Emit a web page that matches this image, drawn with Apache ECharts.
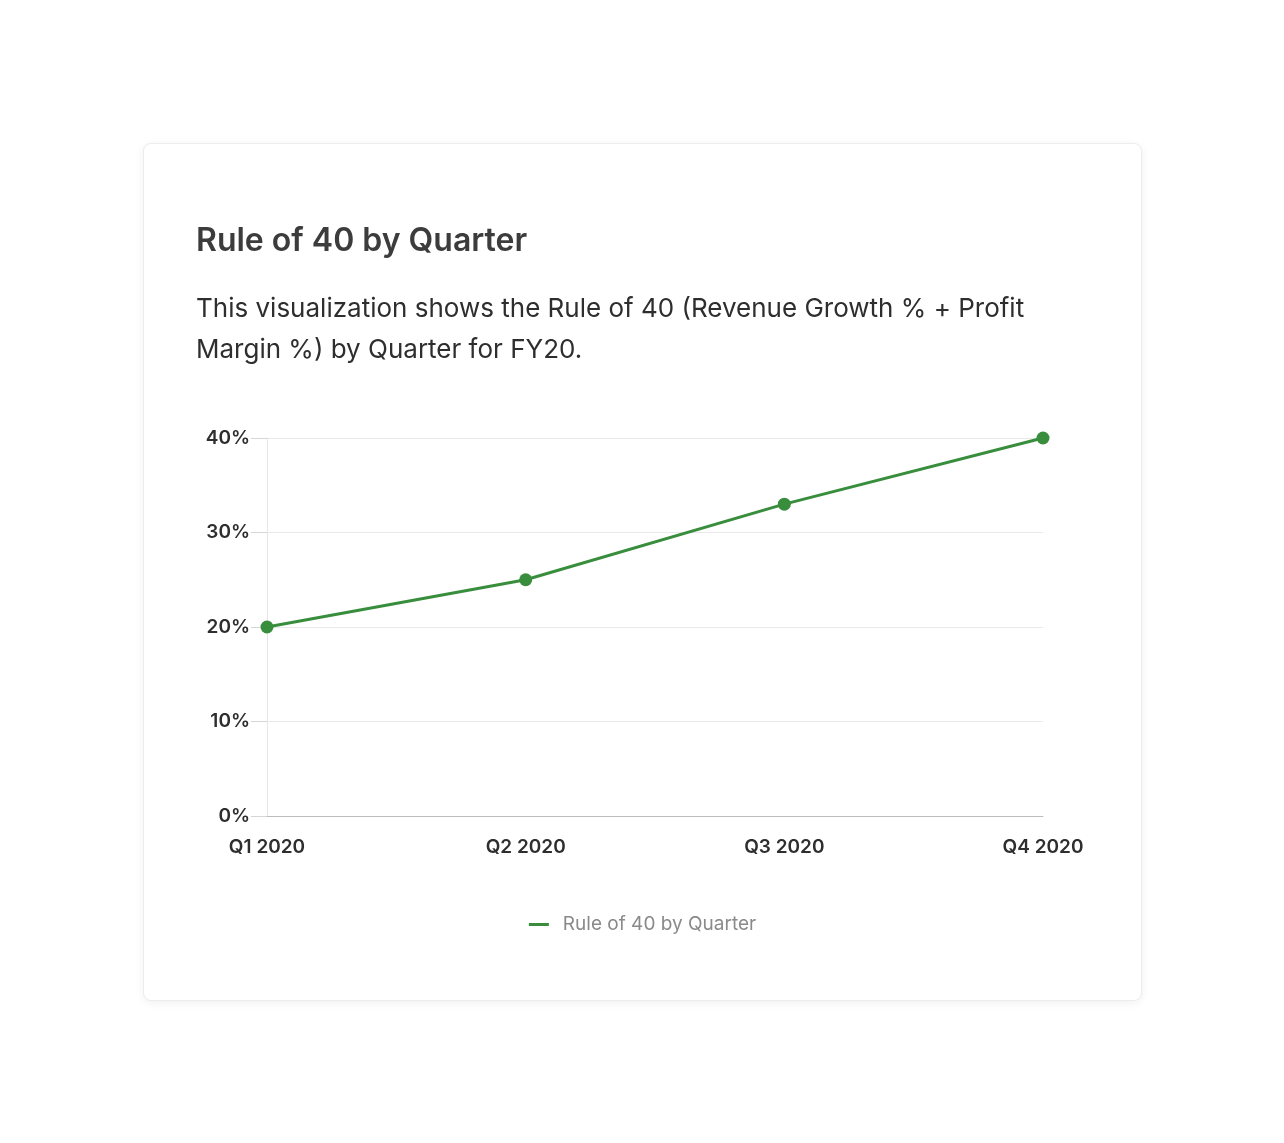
<!DOCTYPE html>
<html>
<head>
<meta charset="utf-8">
<script src="https://cdn.jsdelivr.net/npm/echarts@6/dist/echarts.min.js"></script>
<style>
  html, body { margin: 0; padding: 0; background: #fff; }
  .card {
    position: absolute; left: 143px; top: 143px; width: 997px; height: 856px;
    border: 1px solid #ececec; border-radius: 8px; background: #fff;
    box-shadow: 0 2px 10px rgba(0,0,0,0.06);
  }
  #box { width: 100%; height: 100%; }
</style>
</head>
<body>
<div class="card"><div id="box"></div></div>
<script>
const quarters = ['Q1 2020', 'Q2 2020', 'Q3 2020', 'Q4 2020']
const ruleOf40 = [20, 25, 33, 40]
const seriesName = 'Rule of 40 by Quarter'

const chart = echarts.init(document.getElementById('box'))
chart.setOption({
  textStyle: { fontFamily: 'Inter, sans-serif' },
  title: {
    text: 'Rule of 40 by Quarter',
    subtext: 'This visualization shows the Rule of 40 (Revenue Growth % + Profit\nMargin %) by Quarter for FY20.',
    left: 47,
    top: 76,
    itemGap: 32,
    textStyle: { fontSize: 32, fontWeight: 600, color: '#3c3c3c' },
    subtextStyle: { fontSize: 26, color: '#2e2e2e', lineHeight: 41 }
  },
  legend: {
    bottom: 61,
    left: 'center',
    itemWidth: 20,
    itemHeight: 3,
    itemGap: 14,
    icon: 'rect',
    textStyle: { fontSize: 19, color: '#8a8a8a', padding: [0, 0, 0, 9] },
    data: [seriesName]
  },
  grid: { left: 123, right: 98, top: 294, bottom: 184 },
  xAxis: {
    type: 'category',
    data: quarters,
    boundaryGap: false,
    axisLine: { lineStyle: { color: '#bdbdbd' } },
    axisTick: { show: false },
    axisLabel: { fontSize: 19, color: '#2e2e2e', fontWeight: 600, margin: 22 }
  },
  yAxis: {
    type: 'value',
    min: 0,
    max: 40,
    interval: 10,
    axisLine: { show: true, lineStyle: { color: '#e6e6e6' } },
    axisTick: { show: true, length: 16, lineStyle: { color: '#d6d6d6' } },
    splitLine: { lineStyle: { color: '#e9e9e9' } },
    axisLabel: { formatter: '{value}%', fontSize: 19, color: '#2e2e2e', fontWeight: 600, margin: 17 }
  },
  series: [{
    name: seriesName,
    type: 'line',
    data: ruleOf40,
    symbol: 'circle',
    symbolSize: 13,
    itemStyle: { color: '#388e3c' },
    lineStyle: { width: 3, color: '#388e3c' }
  }]
})
</script>
</body>
</html>
